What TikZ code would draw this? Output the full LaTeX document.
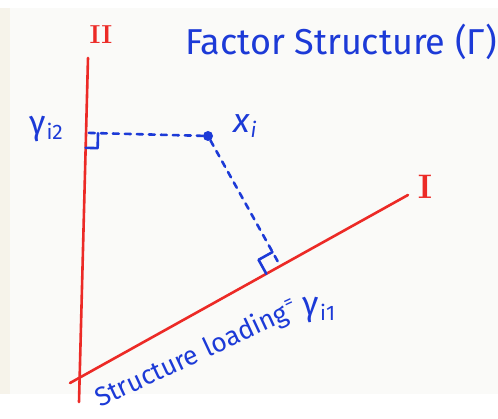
\documentclass[tikz,border=0pt]{standalone}
\usepackage{fontspec}
\usetikzlibrary{calc}
\newfontfamily\hand{Fira Sans}
\definecolor{ink}{RGB}{28,58,215}
\definecolor{redink}{RGB}{236,42,38}
\definecolor{paper}{RGB}{250,250,248}
\definecolor{strip}{RGB}{246,243,234}
\newcommand\symsub[2]{{\fontsize{34}{36}\selectfont #1}\kern1pt\raisebox{-5pt}{\fontsize{21}{22}\selectfont #2}}
\begin{document}
\begin{tikzpicture}[x=1pt,y=-1pt,
  axis/.style={draw=redink,line width=2.6pt,line cap=round},
  proj/.style={draw=ink,line width=2.6pt,dash pattern=on 6pt off 6pt,line cap=round},
  rmark/.style={draw=ink,line width=2.6pt,line cap=round,line join=round},
  bluelbl/.style={text=ink,font=\hand\fontsize{25}{27}\selectfont,inner sep=0pt},
  slant/.style={bluelbl,font=\hand\fontsize{26.5}{28}\selectfont,rotate=25},
  redlbl/.style={text=redink,font=\bfseries\fontsize{26}{28}\selectfont,inner sep=0pt}]
\useasboundingbox (0,0) rectangle (498,419);
\fill[white] (0,0) rectangle (498,419);
\fill[paper] (10,8) rectangle (498,394);
\fill[strip] (0,8) rectangle (10,394);
% axes
\coordinate (IIt) at (88,58);
\coordinate (IIb) at (79,402);
\coordinate (It) at (408,195);
\coordinate (Ib) at (70,383);
\draw[axis] (IIb) -- (IIt);
\draw[axis] (Ib) -- (It);
\node[redlbl] (labII) at (101,35) {II};
\node[redlbl,font=\bfseries\fontsize{34}{36}\selectfont] (labI) at (425,187) {I};
% point
\node[circle,fill=ink,inner sep=0pt,minimum size=10pt] (xi) at (208,136) {};
\node[bluelbl] (xilbl) at (245,126) {\symsub{\itshape x}{\itshape i}};
% feet of perpendiculars
\coordinate (F2) at ($(IIb)!(xi)!(IIt)$);
\coordinate (F1) at ($(Ib)!(xi)!(It)$);
\draw[proj] (xi) -- (F2);
\draw[proj] (xi) -- (F1);
% right angle marks
\coordinate (A2) at ($(F2)!15pt!(IIb)$);
\coordinate (C2) at ($(F2)!12pt!(xi)$);
\draw[rmark] (A2) -- ($(A2)+(C2)-(F2)$) -- (C2);
\coordinate (A1) at ($(F1)!16pt!(Ib)$);
\coordinate (C1) at ($(F1)!16pt!(xi)$);
\draw[rmark] (A1) -- ($(A1)+(C1)-(F1)$) -- (C1);
% labels
\node[bluelbl] (g2) at (46,129) {\symsub{γ}{i2}};
\node[bluelbl,font=\hand\fontsize{36}{38}\selectfont] (title) at (341,42) {Factor Structure (Γ)};
\node[slant,anchor=base west] (st) at (100,408) {Structure};
\node[slant,anchor=base west] (ld) at ([shift={(25:8pt)}]st.base east) {loading};
\node[bluelbl,rotate=25,font=\hand\fontsize{18}{18}\selectfont] (eq) at (289,304) {=};
\node[bluelbl] (g1) at (319,310) {\symsub{γ}{i1}};
\end{tikzpicture}
\end{document}
